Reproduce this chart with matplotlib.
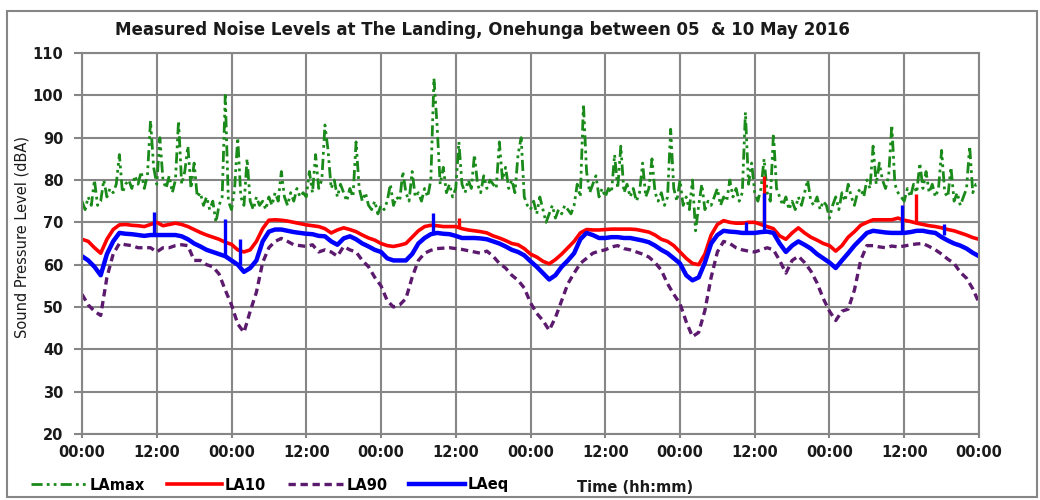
import numpy as np
import matplotlib
matplotlib.use('Agg')
import matplotlib.pyplot as plt
from matplotlib.patches import Rectangle

plt.rcParams['font.family'] = ['DejaVu Sans']

# hourly values (dBA), hour 0 = 00:00 on 05 May
la10 = [66, 65.5, 64, 62.7, 66, 68.3, 69.4, 69.5, 69.3, 69.2, 69, 69.5,
        70, 69.2, 69.5, 69.8, 69.5, 69, 68.3, 67.6, 67, 66.5, 66, 65.3,
        64.8, 63.5, 63, 63.5, 65.5, 68.5, 70.5, 70.6, 70.5, 70.3, 70, 69.7,
        69.4, 69.2, 69, 68.5, 67.5, 68.2, 68.7, 68.3, 67.8, 67, 66.3, 65.8,
        65, 64.5, 64.3, 64.6, 65, 66.5, 68, 69, 69.3, 69.2, 69, 69,
        69, 68.5, 68.2, 68, 67.8, 67.5, 66.8, 66.3, 65.7, 65, 64.7, 63.8,
        62.5, 61.8, 60.8, 60.2, 61.2, 62.5, 64, 65.5, 67.5, 68.3, 68.2, 68.2,
        68.3, 68.4, 68.4, 68.4, 68.4, 68.3, 68, 67.7, 67, 66, 65.5, 64.5,
        63, 61.5, 60.3, 60, 62.5, 67, 69.5, 70.4, 70, 69.8, 69.8, 70,
        70, 69.5, 69, 68.5, 66.8, 66, 67.5, 68.7, 67.5, 66.5, 65.8, 65,
        64.5, 63.2, 64.5, 66.5, 67.8, 69.3, 70, 70.6, 70.6, 70.6, 70.6, 71,
        70.5, 70.2, 69.8, 69.5, 69.2, 69, 68.7, 68.3, 68, 67.5, 67, 66.4,
        66]

la90 = [53, 50.5, 49, 48, 57, 62.5, 65, 64.7, 64.5, 64, 64, 64,
        63, 64, 64, 64.5, 64.7, 64.5, 61, 61, 60, 59.5, 57.8, 54,
        50.5, 46, 44, 49, 53.5, 60.5, 64, 65.5, 66.2, 65.5, 64.7, 64.5,
        64.3, 64.7, 63, 63.5, 63, 62, 64.3, 63.5, 63, 61, 59.5, 57,
        55, 51.5, 50, 50.5, 52, 57, 61, 62.7, 63.4, 63.8, 63.9, 64,
        63.8, 63.6, 63.3, 63, 62.7, 63.2, 62, 60.3, 59.2, 57.5, 56.3, 54.5,
        51, 48.5, 46.8, 44.5, 47.5, 51.5, 55.5, 58, 60.3, 61.5, 62.7, 63.2,
        63.5, 64.2, 64.5, 63.8, 63.5, 63, 62.5, 61.8, 60.5, 58.7, 55.5, 53,
        50.8, 46.5, 43, 44, 49.2, 57, 63, 65.5, 65, 64, 63.5, 63.2,
        63, 63.5, 64, 63.5, 61, 58, 61, 62, 60.5, 58.5, 55.7, 52,
        49, 46.8, 49, 49.5, 54, 61, 64.5, 64.5, 64.2, 64, 64.4, 64.2,
        64.4, 64.7, 64.9, 65, 64.3, 63.5, 62.5, 61.3, 60.3, 58.2, 56.8, 54.3,
        51]

laeq = [62, 61, 59.5, 57.5, 62.5, 65.5, 67.5, 67.3, 67.2, 67, 66.8, 67,
        67, 67, 67, 67, 66.7, 66, 65, 64.3, 63.5, 63, 62.5, 62,
        61, 60, 58.3, 59.2, 61, 65.5, 67.8, 68.3, 68.3, 68, 67.7, 67.5,
        67.3, 67.2, 66.8, 66.7, 65.5, 64.7, 66.2, 66.7, 66, 65, 64.3, 63.5,
        63, 61.5, 61, 61, 61, 62.5, 65, 66.3, 67.2, 67.5, 67.3, 67.2,
        66.8, 66.3, 66.3, 66.3, 66.2, 66, 65.5, 65, 64.3, 63.5, 63, 62.2,
        60.8, 59.5, 58, 56.5, 57.5, 59.5, 61, 62.7, 66, 67.5, 67, 66.3,
        66.3, 66.5, 66.5, 66.3, 66.3, 66, 65.7, 65.3, 64.5, 63.5, 62.7, 61.5,
        60.3, 57.5, 56.3, 57, 60.5, 65, 67, 68, 67.8, 67.7, 67.5, 67.5,
        67.5, 67.7, 67.8, 67.5, 65, 63, 64.5, 65.5, 64.7, 63.8, 62.5, 61.5,
        60.5, 59.2, 61, 62.7, 64.5, 66, 67.5, 68, 67.8, 67.6, 67.5, 67.5,
        67.5, 67.7, 68, 68, 67.7, 67.5, 66.5, 65.7, 65, 64.5, 63.8, 62.8,
        62]

# LAmax read every half hour
lamax = [75, 73, 76, 74, 80, 74, 75, 80, 76, 78, 77, 79, 86, 77, 79, 80, 78, 81, 79, 82, 78, 81, 94, 83,
         79, 90, 80, 78, 81, 77, 80, 94, 79, 82, 88, 78, 84, 76, 77, 74, 76, 73, 75, 70, 74, 76, 100, 75,
         73, 78, 90, 76, 74, 85, 75, 73, 76, 74, 75, 73, 76, 74, 77, 75, 82, 76, 74, 77, 75, 78, 76, 77,
         76, 82, 77, 86, 78, 80, 93, 87, 78, 80, 76, 79, 77, 75, 78, 76, 89, 78, 75, 77, 74, 73, 75, 72,
         74, 73, 75, 79, 74, 76, 75, 82, 77, 75, 82, 76, 77, 75, 78, 76, 80, 104, 93, 79, 83, 77, 79, 76,
         78, 89, 79, 77, 80, 78, 86, 79, 77, 81, 78, 80, 79, 78, 89, 80, 83, 78, 80, 77, 86, 90, 76, 74,
         73, 75, 72, 76, 73, 70, 72, 74, 71, 73, 72, 74, 73, 72, 74, 79, 76, 98, 82, 77, 79, 81, 76, 78,
         76, 78, 77, 86, 78, 88, 77, 79, 76, 78, 75, 77, 84, 76, 78, 85, 77, 75, 77, 74, 76, 92, 78, 75,
         80, 74, 76, 73, 80, 68, 74, 79, 73, 75, 74, 76, 78, 74, 76, 75, 80, 76, 78, 75, 77, 96, 79, 84,
         77, 75, 78, 85, 77, 75, 91, 78, 76, 74, 76, 73, 75, 73, 76, 74, 77, 80, 75, 74, 76, 73, 75, 74,
         71, 74, 76, 73, 77, 75, 79, 76, 74, 77, 78, 76, 80, 78, 88, 79, 84, 80, 78, 81, 93, 79, 77, 76,
         75, 78, 76, 79, 77, 84, 78, 82, 77, 79, 76, 78, 87, 77, 76, 83, 75, 77, 74, 76, 78, 88, 77, 79,
         79]

# short spikes in LAeq and LA10 (hour, base, top)
laeq_spike_h = [11.6, 23.0, 25.4, 56.3, 106.6, 109.5, 131.7, 138.4]
laeq_spike_lo = [67, 62, 60, 67.2, 67.5, 67.7, 67.5, 67]
laeq_spike_hi = [72.5, 70.8, 66, 72.2, 70, 77, 74.2, 69.5]
la10_spike_h = [60.6, 109.5, 133.9]
la10_spike_lo = [69, 69.5, 70]
la10_spike_hi = [71, 81, 76.8]

tick_labels = ['00:00', '12:00'] * 6 + ['00:00']

hours = np.arange(len(la10))
hours_max = np.arange(len(lamax)) * 0.5

grey = '#868686'
txt = '#1a1a1a'
fig = plt.figure(figsize=(10.4, 5.0), dpi=100)
ax = fig.add_axes([82/1040, 1 - 434/500, 897/1040, 381/500])

ax.plot(hours_max, lamax, color='#1a8a1a', lw=2.0, dashes=(4, 1.5, 1, 1.5, 1, 1.5), label='LAmax')
ax.plot(hours, la10, color='#ff0000', lw=2.6, label='LA10')
ax.vlines(la10_spike_h, la10_spike_lo, la10_spike_hi, color='#ff0000', lw=2.4)
ax.plot(hours, la90, color='#5c1a6e', lw=2.4, dashes=(2.2, 1.4), label='LA90')
ax.plot(hours, laeq, color='#0000ff', lw=3.2, label='LAeq')
ax.vlines(laeq_spike_h, laeq_spike_lo, laeq_spike_hi, color='#0000ff', lw=2.4)

ax.set_xlim(0, 144)
ax.set_ylim(20, 110)
ax.set_xticks(np.arange(0, 145, 12))
ax.set_xticklabels(tick_labels)
ax.set_yticks(np.arange(20, 111, 10))
ax.grid(True, color=grey, lw=1.5)
ax.set_axisbelow(True)
for s in ax.spines.values():
    s.set_color(grey)
    s.set_linewidth(1.5)
ax.tick_params(width=1.5, color=grey, labelsize=10.5, labelcolor=txt)
ax.tick_params(axis='x', direction='out', length=3, pad=5)
ax.tick_params(axis='y', direction='out', length=6, pad=7.5)
for lab in ax.get_xticklabels() + ax.get_yticklabels():
    lab.set_fontweight('bold')

fig.text(482/1040, 1 - 30/500, 'Measured Noise Levels at The Landing, Onehunga between 05  & 10 May 2016',
         ha='center', va='center', fontsize=12, fontweight='bold', color=txt)
fig.text(22/1040, 1 - 237/500, 'Sound Pressure Level (dBA)', rotation=90, ha='center', va='center',
         fontsize=10.5, color=txt)
fig.text(635/1040, 1 - 487/500, 'Time (hh:mm)', ha='center', va='center', fontsize=10.5,
         fontweight='bold', color=txt)

leg = fig.legend(loc='center left', bbox_to_anchor=(18/1040, 1 - 485/500), ncol=4, frameon=False,
                 handlelength=3.8, handletextpad=0.2, columnspacing=1.5, prop={'weight': 'bold', 'size': 10.5})

fig.add_artist(Rectangle((7/1040, 3/500), 1030/1040, 486/500, transform=fig.transFigure,
                         fill=False, ec=grey, lw=1.5))

fig.savefig('out.png', dpi=100)
